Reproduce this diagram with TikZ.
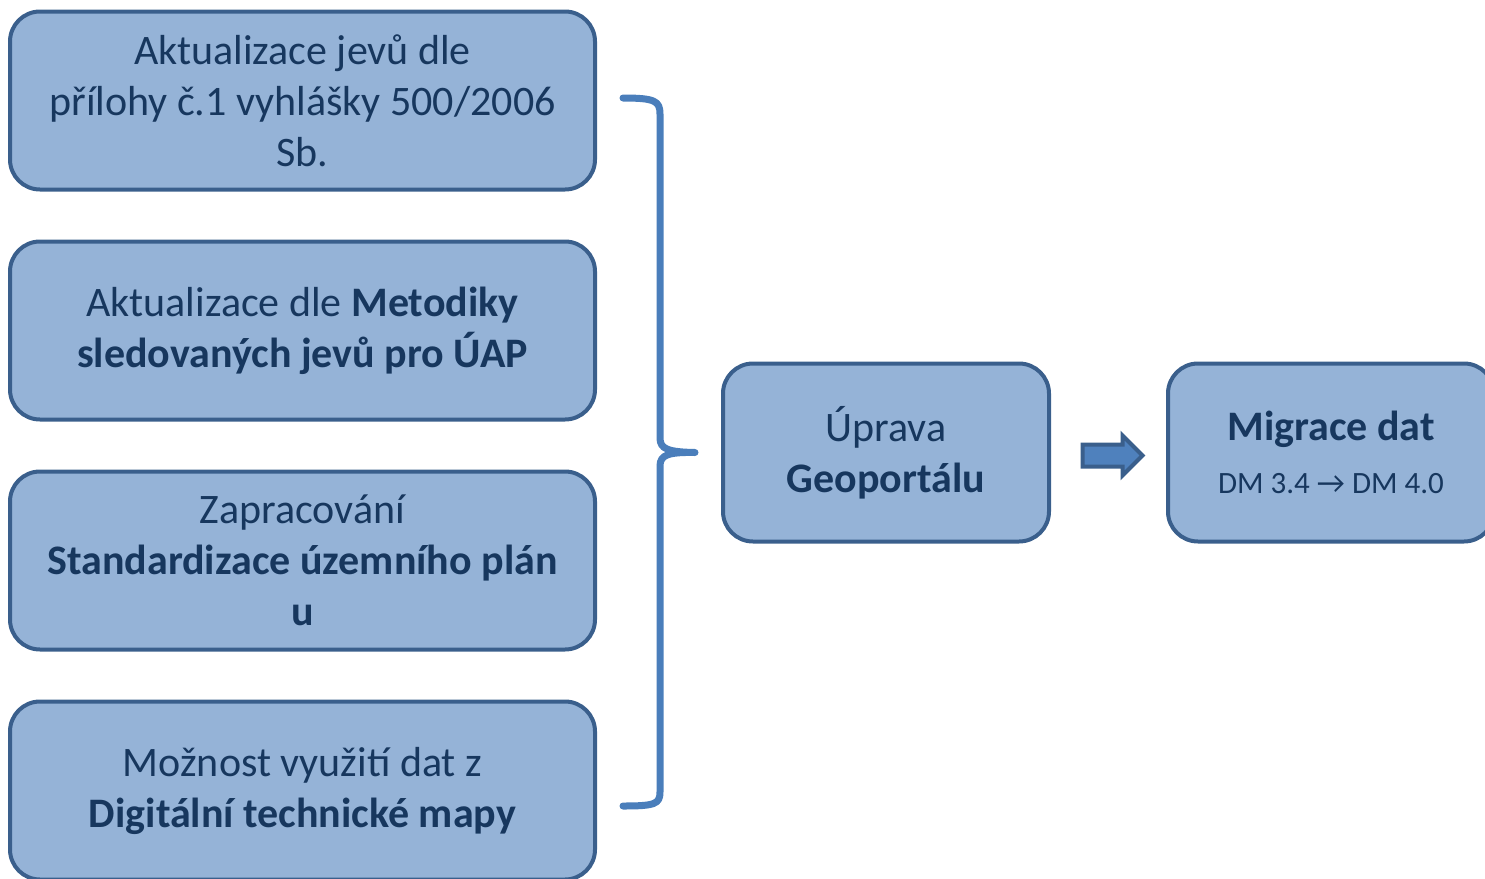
\documentclass[tikz,border=0pt]{standalone}
\usepackage{fontspec}
\setmainfont{Carlito}
\usetikzlibrary{shapes.arrows,positioning}
\definecolor{boxfill}{HTML}{95B3D7}
\definecolor{boxdraw}{HTML}{3A5F8C}
\definecolor{boxtext}{HTML}{17375E}
\definecolor{bracecol}{HTML}{4A7EBB}
\definecolor{arrowfill}{HTML}{4F81BD}

\begin{document}
\begin{tikzpicture}[
    x=0.5pt, y=-0.5pt,
    node distance=115pt,
    line width=2pt,
    task node/.style={rectangle,rounded corners=15pt,draw=boxdraw,fill=boxfill,text=boxtext,align=center,minimum width=292.5pt,minimum height=89pt,inner sep=0pt,font=\fontsize{21}{25.5}\selectfont},
    result node/.style={task node,minimum width=163pt},
    block arrow/.style={single arrow,draw=boxdraw,fill=arrowfill,inner xsep=0pt,inner ysep=4.5pt,minimum height=30pt,single arrow head extend=4.5pt},
    brace line/.style={draw=bracecol,line width=3.5pt,line cap=round,line join=round}]

  \useasboundingbox (0,0) rectangle (1485,879);

  \node[task node] (Priloha) at (302.5,100.5) {Aktualizace jevů dle\\přílohy č.1 vyhlášky 500/2006\\Sb.};
  \node[task node] (Metodika) [below of=Priloha] {Aktualizace dle \textbf{Metodiky}\\\textbf{sledovaných jevů pro ÚAP}};
  \node[task node] (Standard) [below of=Metodika] {Zapracování\\\textbf{Standardizace územního plán}\\\textbf{u}};
  \node[task node] (DTM) [below of=Standard] {Možnost využití dat z\\\textbf{Digitální technické mapy}};

  \node[result node] (Uprava) at (886,452.5) {Úprava\\\textbf{Geoportálu}};
  \node[result node] (Migrace) [right of=Uprava, node distance=222.5pt] {\textbf{Migrace dat}\\[1pt]{\fontsize{15.5}{18}\selectfont DM 3.4 → DM 4.0}};

  \node[block arrow] (Sipka) at (1107,455.5) {};

  % slozena zavorka
  \coordinate (BraceTop) at (623,98);
  \coordinate (BraceTip) at ([xshift=-13pt]Uprava.west);
  \coordinate (BraceBottom) at (623,806);
  \path[brace line] (BraceTop) .. controls (655,98) and (660,101) .. (660,114) -- (660,438)
    .. controls (660,449) and (668,452) .. (BraceTip)
    .. controls (668,452) and (660,455) .. (660,466) -- (660,792)
    .. controls (660,804) and (655,806) .. (BraceBottom);

\end{tikzpicture}
\end{document}
